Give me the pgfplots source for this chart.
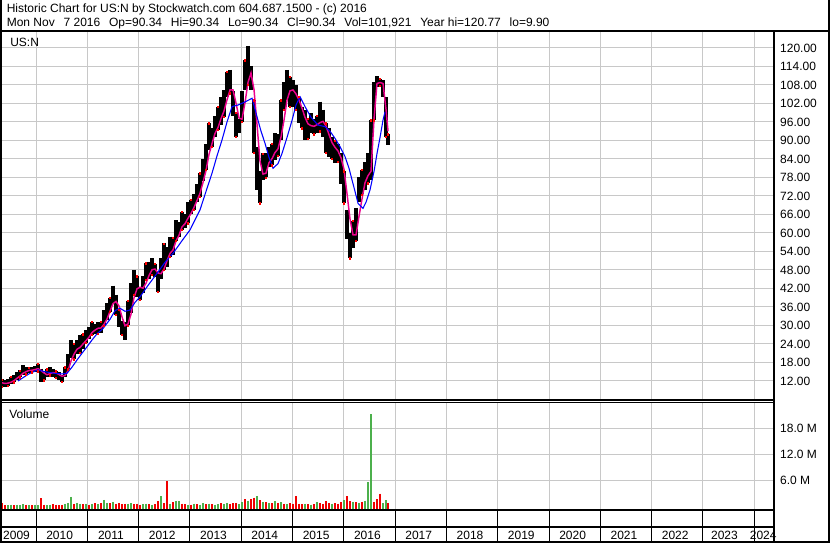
\documentclass[border=0pt]{standalone}
\usepackage{fontspec}
\setmainfont{Liberation Sans}
\usepackage{pgfplots}
\pgfplotsset{compat=1.18}
\usepackage{pgfplotstable}

\definecolor{gridgray}{RGB}{200,200,200}
\definecolor{volgreen}{RGB}{76,176,76}
\definecolor{volred}{RGB}{240,0,0}

% weekly-ish high/low, ma = short moving average (magenta)
\pgfplotstableread{
x hi lo ma
2009.337 12.5 10.2 11.4
2009.396 12.2 10.0 11.2
2009.454 12.6 10.4 11.3
2009.513 13.4 11.0 11.6
2009.571 13.8 11.6 12.1
2009.630 15.0 12.4 12.9
2009.688 15.4 13.2 13.6
2009.747 17.2 13.8 14.5
2009.805 16.4 14.2 15.0
2009.864 16.2 14.6 15.4
2009.922 16.6 14.8 15.5
2009.981 17.0 15.0 15.7
2010.039 17.6 15.2 16.0
2010.097 16.0 11.8 15.4
2010.156 14.6 12.2 14.6
2010.214 15.8 13.4 14.0
2010.273 16.4 13.8 14.4
2010.331 15.8 13.2 14.7
2010.390 15.2 13.0 14.6
2010.448 14.8 12.4 14.1
2010.507 14.0 11.8 13.5
2010.565 16.4 13.2 13.8
2010.624 20.6 15.8 15.3
2010.682 25.2 19.5 18.5
2010.741 24.0 19.0 20.7
2010.799 25.4 20.8 22.3
2010.858 26.8 21.2 22.9
2010.916 27.2 22.4 24.0
2010.975 28.4 24.4 25.1
2011.033 29.4 25.6 26.2
2011.092 31.2 27.0 27.7
2011.150 30.6 27.2 28.5
2011.209 31.0 27.4 29.1
2011.267 31.2 27.6 29.2
2011.326 35.0 30.0 30.4
2011.384 37.2 31.8 32.1
2011.442 39.0 34.5 34.6
2011.501 42.9 37.0 37.1
2011.559 40.0 33.5 37.8
2011.618 35.0 29.6 36.3
2011.676 31.5 27.0 32.8
2011.735 31.0 25.3 29.9
2011.793 38.0 30.0 30.5
2011.852 43.7 34.0 33.7
2011.910 48.0 40.0 39.0
2011.969 46.0 39.4 41.9
2012.027 42.6 38.3 42.4
2012.086 46.0 40.5 42.1
2012.144 50.2 44.8 43.7
2012.203 50.5 45.0 46.2
2012.261 51.8 46.5 48.1
2012.320 50.0 45.8 48.3
2012.378 46.9 41.0 47.0
2012.437 52.0 45.0 46.8
2012.495 56.6 48.0 48.3
2012.554 55.5 49.0 51.0
2012.612 58.8 52.3 53.4
2012.671 58.5 53.0 54.5
2012.729 64.2 57.5 57.4
2012.788 63.5 58.8 59.3
2012.846 66.9 61.0 62.0
2012.904 66.0 61.5 63.0
2012.963 70.2 63.1 64.8
2013.021 70.7 66.0 66.3
2013.080 72.5 67.5 68.3
2013.138 76.0 70.0 70.5
2013.197 79.4 71.8 72.9
2013.255 84.0 77.0 76.4
2013.314 89.0 80.4 80.3
2013.372 95.6 87.0 85.5
2013.431 94.0 88.0 89.0
2013.489 98.0 91.0 92.3
2013.548 101.0 93.4 94.2
2013.606 104.0 95.0 97.1
2013.665 106.4 97.7 99.6
2013.723 112.3 104.0 103.2
2013.782 112.9 105.3 106.4
2013.840 106.0 98.0 106.4
2013.899 99.0 91.2 102.1
2013.957 97.0 92.3 97.3
2014.016 106.0 96.0 96.9
2014.074 116.0 106.4 102.3
2014.133 120.7 108.0 108.9
2014.191 114.0 106.4 111.9
2014.250 103.0 86.0 106.4
2014.308 88.0 74.0 95.2
2014.366 80.0 69.6 83.4
2014.425 85.8 77.2 79.1
2014.483 86.0 78.0 79.4
2014.542 88.0 81.5 82.8
2014.600 89.0 82.0 84.1
2014.659 92.3 83.7 86.1
2014.717 92.0 85.0 87.3
2014.776 103.1 90.2 91.1
2014.834 109.0 100.0 96.6
2014.893 112.9 103.1 103.1
2014.951 110.7 101.0 106.1
2015.010 109.6 101.0 106.4
2015.068 108.0 100.0 105.1
2015.127 104.2 95.6 103.1
2015.185 101.0 94.0 100.5
2015.244 99.9 90.2 97.5
2015.302 97.0 90.5 95.4
2015.361 98.8 92.3 94.8
2015.419 97.0 92.0 94.6
2015.478 98.0 92.3 95.1
2015.536 102.6 93.0 95.8
2015.595 100.0 91.2 96.2
2015.653 95.6 86.0 94.7
2015.712 94.0 84.8 91.9
2015.770 91.2 84.0 89.3
2015.828 90.0 82.6 87.8
2015.887 89.0 83.0 86.6
2015.945 85.8 76.0 84.4
2016.004 80.0 69.6 80.6
2016.062 67.5 58.0 72.8
2016.121 60.0 51.8 64.5
2016.179 64.0 55.0 59.4
2016.238 68.0 57.5 59.4
2016.296 78.0 70.0 65.4
2016.355 80.4 72.5 71.1
2016.413 83.0 74.0 76.3
2016.472 85.8 76.1 78.6
2016.530 96.6 77.2 80.0
2016.589 109.0 96.6 97.0
2016.647 110.9 107.5 108.5
2016.706 110.0 107.8 108.8
2016.764 109.6 104.0 108.5
2016.823 104.0 91.2 100.0
2016.862 92.0 88.5 93.0
}\pricedata

% long moving average (blue)
\pgfplotstableread{
x ma
2009.649 12.0
2009.786 13.5
2009.883 14.5
2010.039 15.6
2010.175 15.0
2010.312 14.6
2010.507 14.3
2010.604 14.5
2010.702 16.5
2010.799 18.8
2010.897 21.0
2010.994 23.1
2011.092 25.3
2011.189 27.3
2011.306 29.0
2011.442 32.0
2011.540 34.8
2011.637 35.6
2011.735 34.6
2011.832 35.0
2011.930 37.5
2012.027 39.3
2012.183 43.0
2012.359 46.9
2012.515 50.5
2012.671 53.4
2012.846 57.5
2013.002 61.0
2013.197 67.5
2013.314 73.5
2013.431 79.4
2013.528 85.0
2013.626 90.2
2013.723 96.0
2013.821 101.0
2013.938 101.5
2014.074 102.5
2014.211 103.7
2014.308 97.7
2014.386 93.0
2014.464 89.1
2014.542 84.5
2014.620 81.0
2014.717 82.5
2014.795 85.8
2014.893 91.0
2014.990 96.5
2015.068 101.5
2015.146 104.2
2015.244 101.0
2015.361 97.5
2015.497 95.0
2015.634 94.5
2015.731 93.0
2015.828 90.7
2015.926 88.0
2016.023 84.8
2016.101 81.0
2016.160 77.2
2016.218 73.5
2016.277 69.6
2016.374 68.0
2016.433 70.0
2016.511 74.0
2016.589 80.0
2016.647 85.8
2016.706 91.0
2016.764 96.6
2016.803 99.3
}\longma

% volume in millions, up weeks
\pgfplotstableread{
x v
2009.454 0.3
2009.513 0.4
2009.630 0.4
2009.688 0.3
2009.747 0.5
2009.864 0.3
2009.981 0.4
2010.039 0.3
2010.214 0.3
2010.273 0.4
2010.565 0.6
2010.624 0.8
2010.682 2.2
2010.799 0.8
2010.858 0.6
2010.975 0.6
2011.092 0.6
2011.209 0.5
2011.326 1.5
2011.384 0.8
2011.501 1.0
2011.793 0.6
2011.852 0.8
2012.086 0.5
2012.144 0.6
2012.261 0.4
2012.437 2.3
2012.612 0.6
2012.729 1.2
2012.788 1.2
2012.963 0.4
2013.080 0.6
2013.197 0.4
2013.255 0.7
2013.372 0.6
2013.489 0.4
2013.548 0.5
2013.665 0.5
2013.723 0.8
2013.957 0.5
2014.016 0.9
2014.133 1.3
2014.308 2.3
2014.425 1.0
2014.542 0.7
2014.659 1.2
2014.776 0.9
2014.893 0.5
2015.244 0.6
2015.361 0.4
2015.478 0.9
2015.770 0.6
2016.004 1.4
2016.179 1.0
2016.296 0.8
2016.413 1.3
2016.472 5.6
2016.530 21.3
2016.764 0.7
2016.823 1.4
}\volup

% volume in millions, down weeks
\pgfplotstableread{
x v
2009.337 0.8
2009.396 0.3
2009.571 0.3
2009.805 0.4
2009.922 0.3
2010.097 1.9
2010.156 0.4
2010.331 0.5
2010.390 0.4
2010.448 0.3
2010.507 0.4
2010.741 0.6
2010.916 0.5
2011.033 0.4
2011.150 0.7
2011.267 0.8
2011.442 0.7
2011.559 0.6
2011.618 0.8
2011.676 0.5
2011.735 0.6
2011.910 0.5
2011.969 0.6
2012.027 0.4
2012.203 0.5
2012.320 0.5
2012.378 1.2
2012.495 0.8
2012.554 5.8
2012.671 0.9
2012.846 0.6
2012.904 0.5
2013.021 0.4
2013.138 0.5
2013.314 0.5
2013.431 0.5
2013.606 0.7
2013.782 0.6
2013.840 0.7
2013.899 0.8
2014.074 1.6
2014.191 1.6
2014.250 2.0
2014.366 1.4
2014.483 0.9
2014.600 0.7
2014.717 0.8
2014.834 0.6
2014.951 0.7
2015.010 0.6
2015.068 2.3
2015.127 0.6
2015.185 0.5
2015.302 0.5
2015.419 0.5
2015.536 0.7
2015.595 0.5
2015.653 1.2
2015.712 0.8
2015.828 0.7
2015.887 0.6
2015.945 0.9
2016.062 2.3
2016.121 1.2
2016.238 0.9
2016.355 1.1
2016.589 1.0
2016.647 1.6
2016.706 2.9
2016.862 0.8
}\voldown

\pgfplotsset{
  swpanel/.style={
    scale only axis, anchor=south west, width=579.75pt,
    xmin=2009.298, xmax=2024.366,
    axis line style={draw=none}, tick style={draw=none},
    xtick={2010,2011,...,2024}, xticklabels={},
    grid style={gridgray, line width=0.75pt},
    yticklabel pos=right,
    yticklabel style={anchor=west, xshift=2.2pt, font=\fontsize{9}{10}\selectfont},
  },
}

\begin{document}
\fontsize{9}{10}\selectfont
\begin{tikzpicture}
\useasboundingbox (0,0) rectangle (622.5pt,407.25pt);
\fill[white] (0,0) rectangle (622.5pt,407.25pt);

% price panel
\begin{axis}[swpanel,
  at={(0pt,107.25pt)}, height=276pt,
  ymin=5.83, ymax=125.19,
  xmajorgrids, ymajorgrids,
  ytick={12,18,...,120},
  yticklabels={12.00,18.00,24.00,30.00,36.00,42.00,48.00,54.00,60.00,66.00,72.00,78.00,84.00,90.00,96.00,102.00,108.00,114.00,120.00},
]
\addplot[draw=none, mark=none, forget plot,
  error bars/.cd, y dir=minus, y explicit, error mark=none,
  error bar style={black, line width=2.4pt}]
  table[x=x, y=hi, y error expr=\thisrow{hi}-\thisrow{lo}] {\pricedata};
\addplot[only marks, mark=square*, mark size=0.5pt, red, each nth point=2, filter discard warning=false]
  table[x=x, y=lo] {\pricedata};
\addplot[only marks, mark=square*, mark size=0.5pt, red, each nth point=3, filter discard warning=false]
  table[x=x, y=hi] {\pricedata};
\addplot[magenta, line width=1.1pt] table[x=x, y=ma] {\pricedata};
\addplot[blue, line width=0.8pt] table[x=x, y=ma] {\longma};
\end{axis}

% volume panel
\begin{axis}[swpanel,
  at={(0pt,25.5pt)}, height=80.25pt,
  ymin=-0.62, ymax=24.07,
  xmajorgrids, ymajorgrids,
  ytick={6,12,18}, yticklabels={6.0 M,12.0 M,18.0 M},
]
\addplot[draw=none, mark=none,
  error bars/.cd, y dir=minus, y explicit, error mark=none,
  error bar style={volred, line width=2.1pt}]
  table[x=x, y=v, y error expr=\thisrow{v}+0.62] {\voldown};
\addplot[draw=none, mark=none,
  error bars/.cd, y dir=minus, y explicit, error mark=none,
  error bar style={volgreen, line width=2.1pt}]
  table[x=x, y=v, y error expr=\thisrow{v}+0.62] {\volup};
\end{axis}

% date band
\begin{axis}[swpanel,
  at={(0pt,1.5pt)}, height=23.25pt,
  ymin=0, ymax=1, ytick=\empty,
  xmajorgrids, grid style={black, line width=0.75pt},
  extra x ticks={2009.62,2010.46,2011.46,2012.46,2013.46,2014.46,2015.46,2016.46,2017.46,2018.46,2019.46,2020.46,2021.46,2022.46,2023.42,2024.175},
  extra x tick labels={2009,2010,2011,2012,2013,2014,2015,2016,2017,2018,2019,2020,2021,2022,2023,2024},
  extra x tick style={grid=none, tick label style={anchor=base, yshift=0.9pt, font=\fontsize{9}{10}\selectfont}},
]
\end{axis}

% frame, header and panel captions (pixel grid, origin top left)
\begin{scope}[shift={(0pt,407.25pt)}, x=0.75pt, y=-0.75pt]
  \draw[black, line width=1.5pt] (1,0) -- (1,543);
  \draw[black, line width=1.5pt] (0,541.5) -- (830,541.5);
  \draw[black, line width=1.5pt] (828.5,0) -- (828.5,543);
  \draw[black, line width=1.5pt] (0,31) -- (830,31);
  \draw[black, line width=1.5pt] (774,31) -- (774,543);
  \draw[black, line width=1.5pt] (0,400) -- (774,400);
  \draw[black, line width=0.75pt] (0,402.5) -- (774,402.5);
  \draw[black, line width=1.5pt] (0,510) -- (774,510);
  \draw[black, line width=1.5pt] (0,527) -- (774,527);
  \node[anchor=base west, inner sep=0pt] at (6.5,12.5) {Historic Chart for US:N by Stockwatch.com 604.687.1500 - (c) 2016};
  \node[anchor=base west, inner sep=0pt] at (6.5,26.5) {Mon Nov\hspace{6.6pt}7 2016\hspace{6.6pt}Op=90.34\hspace{6.6pt}Hi=90.34\hspace{6.6pt}Lo=90.34\hspace{6.6pt}Cl=90.34\hspace{6.6pt}Vol=101,921\hspace{6.6pt}Year hi=120.77\hspace{6.6pt}lo=9.90};
  \node[anchor=base west, inner sep=0pt] at (10,46.5) {US:N};
  \node[anchor=base west, inner sep=0pt] at (9,418) {Volume};
\end{scope}
\end{tikzpicture}
\end{document}
